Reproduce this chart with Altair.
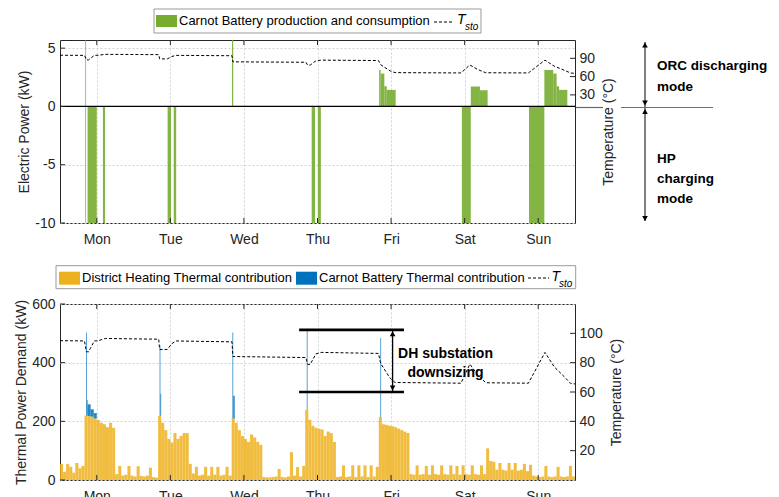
import altair as alt
import pandas as pd

FONT = "Liberation Sans"
INK = "#262626"
GRID = "#d3d3d3"
GREEN = "#77AC30"
YELLOW = "#EDB120"
BLUE = "#0072BD"

W, H1, H2 = 515, 183, 176

DAYS = ["Mon", "Tue", "Wed", "Thu", "Fri", "Sat", "Sun"]
DAY_HOURS = [12, 36, 60, 84, 108, 132, 156]

# ---- top panel: Carnot battery electric power (segments in hours, kW)
E_START = [8.25, 8.25, 9.0, 14.0, 35.1, 37.1, 56.1, 82.1, 84.1, 104.1, 104.6, 105.8, 106.6,
           131.1, 134.0, 137.0, 153.0, 158.0, 160.9, 162.0, 162.8]
E_END = [8.5, 8.5, 12.0, 14.7, 36.2, 37.9, 56.5, 83.2, 85.1, 104.6, 105.8, 106.6, 109.5,
         134.0, 137.0, 139.5, 158.0, 160.9, 162.0, 162.8, 165.5]
E_KW = [5.7, -10, -10, -10, -10, -10, 5.7, -10, -10, 3.13, 2.82, 1.73, 1.42,
        -10, 1.71, 1.39, -10, 3.13, 2.82, 1.73, 1.42]

# ---- storage temperature T_sto (hour, degC)
T_HOUR = [0, 8.0, 8.6, 9.3, 9.9, 11.2, 12.5, 14.8, 32.2, 32.5, 35.0, 36.5, 37.9, 56.1, 56.4,
          80.2, 80.8, 81.6, 83.5, 85.2, 103.9, 104.6, 107.7, 109.3, 130.8, 133.7, 136.3, 138.9,
          152.8, 158.2, 161.2, 164.5, 166.6, 168]
T_DEG = [95.0, 94.8, 87.5, 87.3, 89.7, 94.8, 95.0, 96.5, 96.0, 89.0, 89.0, 93.0, 94.8, 94.2, 84.2,
         83.5, 78.8, 78.8, 86.0, 87.0, 86.3, 79.5, 69.3, 66.5, 66.0, 79.0, 71.5, 66.3,
         66.0, 87.0, 77.2, 70.4, 65.8, 65.5]

# ---- bottom panel: district heating thermal contribution, hourly kW
DH_KW = [
    55, 28, 55, 45, 25, 58, 40, 48,
    220, 218, 216, 210, 205, 195, 190, 180, 195, 178,
    20, 48, 15, 18, 48, 15, 12, 47, 14, 12, 15, 42, 10, 8,
    219, 195, 170, 140, 128, 160, 140, 150, 160, 160, 55,
    22, 45, 15, 18, 45, 15, 45, 18, 45, 15, 18, 45, 15,
    210, 195, 170, 150, 140, 130, 155, 145, 130, 120,
    10, 9, 9, 10, 12, 38, 10, 9, 12, 95, 15, 44, 12, 48,
    240, 205, 185, 178, 175, 172, 150, 165, 160, 130,
    10, 12, 50, 10, 12, 50, 10, 50, 12, 50, 10, 50, 12, 45,
    215, 190, 188, 185, 183, 180, 175, 170, 165, 160,
    20, 18, 50, 18, 20, 48, 18, 50, 20, 18, 50, 20, 18, 50, 20, 48, 18, 50, 20, 18,
    50, 20, 18, 50, 20, 108, 65, 62, 35, 58, 35, 32, 58, 35, 58, 32, 35, 55, 30, 52,
    15, 12, 10, 12, 48, 12, 10, 12, 45, 12, 10, 12, 48, 12,
]
assert len(DH_KW) == 168

# Carnot battery thermal contribution (stacked on DH), segments
CB_START = [8.5, 8.75, 9.0, 10.0, 11.0, 32.5, 32.75, 56.25, 56.5, 80.5, 104.5]
CB_END = [8.75, 9.0, 10.0, 11.0, 12.0, 32.75, 33.0, 56.5, 57.0, 80.75, 104.75]
CB_KW = [283, 53, 40, 25, 18, 240, 75, 293, 77, 270, 269]

# annotation: DH substation downsizing
DOWN_KW = [512, 300]
DOWN_SPAN = [78, 112.2]
ARROW_H = 108.5

YL1_TICKS = [-10, -5, 0, 5]
YR1_TICKS = [30, 60, 90]
YL2_TICKS = [0, 200, 400, 600]
YR2_TICKS = [20, 40, 60, 80, 100]

xs = alt.Scale(domain=[0, 168], nice=False, zero=False)
day_expr = "[" + ",".join("'%s'" % d for d in DAYS) + "][floor(datum.value / 24)]"
x_axis = alt.Axis(values=DAY_HOURS, labelExpr=day_expr, title=None, grid=True, gridDash=[2, 2],
                  gridColor=GRID, tickSize=0, domain=False, labelPadding=9, labelOverlap=False)
neg_expr = "datum.value < 0 ? '-' + abs(datum.value) : '' + datum.value"


def left_axis(vals, title):
    return alt.Axis(values=vals, labelExpr=neg_expr, title=title, grid=True, gridDash=[2, 2],
                    gridColor=GRID, tickSize=0, domain=False, labelPadding=5, titlePadding=3,
                    labelFlush=False)


def right_axis(vals):
    return alt.Axis(orient="right", values=vals, title="Temperature (°C)", titleAngle=270,
                    titleBaseline="top", grid=False, tickSize=0, domain=False, labelPadding=4,
                    titlePadding=7, labelFlush=False)


dummy = pd.DataFrame({"a": [0]})


def txt(x, y, s, size=14, bold=False, italic=False, align="left", baseline="middle", lh=None):
    kw = dict(font=FONT, fontSize=size, align=align, baseline=baseline, color="black")
    if bold:
        kw["fontWeight"] = "bold"
    if italic:
        kw["fontStyle"] = "italic"
    if lh is not None:
        kw["lineBreak"] = "\n"
        kw["lineHeight"] = lh
    return alt.Chart(dummy).mark_text(**kw).encode(x=alt.value(x), y=alt.value(y), text=alt.value(s))


def box(x0, x1, y0, y1, fill, stroke=None):
    kw = dict(fill=fill)
    if stroke:
        kw.update(stroke=stroke, strokeWidth=1)
    return alt.Chart(dummy).mark_rect(**kw).encode(
        x=alt.value(x0), x2=alt.value(x1), y=alt.value(y0), y2=alt.value(y1))


def hline(x0, x1, y, color="black", width=1, dash=None):
    kw = dict(color=color, strokeWidth=width)
    if dash:
        kw["strokeDash"] = dash
    return alt.Chart(dummy).mark_rule(**kw).encode(
        x=alt.value(x0), x2=alt.value(x1), y=alt.value(y))


def vline(x, y0, y1, color="black", width=1):
    return alt.Chart(dummy).mark_rule(color=color, strokeWidth=width).encode(
        x=alt.value(x), y=alt.value(y0), y2=alt.value(y1))


def head(x, y, shape):
    return alt.Chart(dummy).mark_point(shape=shape, filled=True, size=32, color="black", opacity=1).encode(
        x=alt.value(x), y=alt.value(y))


def xticks(h):
    d = pd.DataFrame({"h": DAY_HOURS})
    base = alt.Chart(d).mark_rule(color=INK, strokeWidth=1)
    enc = dict(x=alt.X("h:Q", scale=xs, axis=x_axis))
    return [base.encode(y=alt.value(0), y2=alt.value(5), **enc),
            base.encode(y=alt.value(h - 5), y2=alt.value(h), **enc)]


def yticks(vals, scale, axis, right):
    d = pd.DataFrame({"v": vals})
    x0, x1 = (W - 5, W) if right else (0, 5)
    return alt.Chart(d).mark_rule(color=INK, strokeWidth=1).encode(
        y=alt.Y("v:Q", scale=scale, axis=axis), x=alt.value(x0), x2=alt.value(x1))


t_df = pd.DataFrame({"h": T_HOUR, "t": T_DEG})


def tline(scale, axis):
    return alt.Chart(t_df).mark_line(color="black", strokeDash=[3, 2], strokeWidth=1).encode(
        x=alt.X("h:Q", scale=xs, axis=x_axis),
        y=alt.Y("t:Q", scale=scale, axis=axis))


# ================= TOP PANEL =================
ysL1 = alt.Scale(domain=[-10, 5.7], nice=False, zero=False)
ysR1 = alt.Scale(domain=[-180, 120], nice=False, zero=False)
axL1 = left_axis(YL1_TICKS, "Electric Power (kW)")
axR1 = right_axis(YR1_TICKS)

e_df = pd.DataFrame({"start": E_START, "end": E_END, "kw": E_KW})
bars_e = alt.Chart(e_df).mark_rect(color=GREEN, opacity=0.9, clip=True).encode(
    x=alt.X("start:Q", scale=xs, axis=x_axis), x2="end:Q",
    y=alt.Y("kw:Q", scale=ysL1, axis=axL1), y2=alt.datum(0))
zero1 = alt.Chart(pd.DataFrame({"z": [0]})).mark_rule(color="black", strokeWidth=1.2).encode(
    y=alt.Y("z:Q", scale=ysL1, axis=axL1), x=alt.value(0), x2=alt.value(W))

legend1 = [
    box(94, 421, -31, -7, "white", "#9a9a9a"),
    box(96, 117, -25, -13, GREEN),
    txt(119, -19, "Carnot Battery production and consumption", size=13),
    hline(374, 394, -18, dash=[3, 2]),
    txt(397, -20, "T", size=14, italic=True),
    txt(405, -13, "sto", size=10, italic=True),
]

annot1 = [
    vline(585, 2, 181),
    head(585, 5, "triangle-up"),
    head(585, 63, "triangle-down"),
    head(585, 71.5, "triangle-up"),
    head(585, 178.5, "triangle-down"),
    hline(516, 543, 67.5, color="#666666", width=1.2),
    hline(561, 653, 67.5, color="#707070", width=1.2),
    txt(597, 30, "ORC discharging\nmode", size=13.5, bold=True, baseline="alphabetic", lh=21),
    txt(597, 123, "HP\ncharging\nmode", size=13.5, bold=True, baseline="alphabetic", lh=20),
]

left1 = alt.layer(bars_e, zero1, yticks(YL1_TICKS, ysL1, axL1, False), *xticks(H1), *legend1, *annot1)
right1 = alt.layer(tline(ysR1, axR1), yticks(YR1_TICKS, ysR1, axR1, True))
top = alt.layer(left1, right1).resolve_scale(y="independent").properties(width=W, height=H1)

# ================= BOTTOM PANEL =================
ysL2 = alt.Scale(domain=[0, 600], nice=False, zero=False)
ysR2 = alt.Scale(domain=[0, 120], nice=False, zero=False)
axL2 = left_axis(YL2_TICKS, "Thermal Power Demand (kW)")
axR2 = right_axis(YR2_TICKS)

hours = list(range(168))
dh_df = pd.DataFrame({"start": hours, "end": [h + 1 for h in hours], "kw": DH_KW})
bars_dh = alt.Chart(dh_df).mark_rect(color=YELLOW, opacity=0.85).encode(
    x=alt.X("start:Q", scale=xs, axis=x_axis), x2="end:Q",
    y=alt.Y("kw:Q", scale=ysL2, axis=axL2), y2=alt.datum(0))

cb_base = [DH_KW[int(s)] for s in CB_START]
cb_df = pd.DataFrame({"start": CB_START, "end": CB_END, "base": cb_base,
                      "top": [b + v for b, v in zip(cb_base, CB_KW)]})
bars_cb = alt.Chart(cb_df).mark_rect(color=BLUE, opacity=0.85).encode(
    x=alt.X("start:Q", scale=xs, axis=x_axis), x2="end:Q",
    y=alt.Y("top:Q", scale=ysL2, axis=axL2), y2="base:Q")

down_df = pd.DataFrame({"kw": DOWN_KW, "h0": [DOWN_SPAN[0]] * 2, "h1": [DOWN_SPAN[1]] * 2})
down_lines = alt.Chart(down_df).mark_rule(color="black", strokeWidth=2.7).encode(
    x=alt.X("h0:Q", scale=xs, axis=x_axis), x2="h1:Q", y=alt.Y("kw:Q", scale=ysL2, axis=axL2))
arr_df = pd.DataFrame({"h": [ARROW_H], "a": [DOWN_KW[0]], "b": [DOWN_KW[1]]})
arrow = alt.Chart(arr_df).mark_rule(color="black", strokeWidth=1.3).encode(
    x=alt.X("h:Q", scale=xs, axis=x_axis), y=alt.Y("a:Q", scale=ysL2, axis=axL2), y2="b:Q")
arrow_up = alt.Chart(arr_df).mark_point(shape="triangle-up", filled=True, size=32, color="black", opacity=1,
                                         yOffset=4).encode(
    x=alt.X("h:Q", scale=xs, axis=x_axis), y=alt.Y("a:Q", scale=ysL2, axis=axL2))
arrow_dn = alt.Chart(arr_df).mark_point(shape="triangle-down", filled=True, size=32, color="black", opacity=1,
                                         yOffset=-4).encode(
    x=alt.X("h:Q", scale=xs, axis=x_axis), y=alt.Y("b:Q", scale=ysL2, axis=axL2))

legend2 = [
    box(-4, 515.7, -38.3, -15.3, "white", "#9a9a9a"),
    box(-1, 20, -32.3, -19.3, YELLOW),
    txt(22, -25.8, "District Heating Thermal contribution", size=13),
    box(236, 257, -32.3, -19.3, BLUE),
    txt(259, -25.8, "Carnot Battery Thermal contribution", size=13),
    hline(468, 489, -26, dash=[3, 2]),
    txt(491.5, -27.5, "T", size=14, italic=True),
    txt(499, -20.5, "sto", size=10, italic=True),
]

annot2 = [txt(385.5, 53.7, "DH substation\ndownsizing", size=14, bold=True, align="center",
              baseline="alphabetic", lh=19.5)]

left2 = alt.layer(bars_dh, bars_cb, yticks(YL2_TICKS, ysL2, axL2, False), *xticks(H2),
                  down_lines, arrow, arrow_up, arrow_dn, *legend2, *annot2)
right2 = alt.layer(tline(ysR2, axR2), yticks(YR2_TICKS, ysR2, axR2, True))
bottom = alt.layer(left2, right2).resolve_scale(y="independent").properties(width=W, height=H2)

chart = alt.vconcat(top, bottom, spacing=17).properties(
    padding={"left": 6, "top": 0, "right": 0, "bottom": 0},
    background="white",
).configure(font=FONT).configure_view(stroke=INK, strokeWidth=1).configure_axis(
    labelFont=FONT, titleFont=FONT, labelFontSize=14, titleFontSize=14, titleFontWeight="normal",
    labelColor=INK, titleColor=INK)

chart.save("out.html", embed_options={"renderer": "svg", "actions": False})
